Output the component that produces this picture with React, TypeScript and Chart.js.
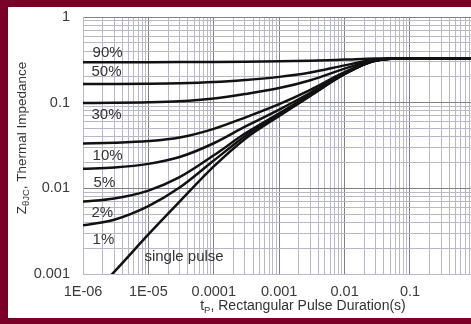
import { useEffect, useRef } from "react";
import { Chart, registerables } from "chart.js";

Chart.register(...registerables);

// Rectangular pulse duration (s)
const pulseDuration = [1e-6, 3e-6, 1e-5, 3e-5, 1e-4, 3e-4, 1e-3, 3e-3, 1e-2, 3e-2, 1e-1, 1];

// Thermal impedance Z(theta JC) per duty cycle
const duty90 = [0.297, 0.2971, 0.2973, 0.2977, 0.2988, 0.3008, 0.304, 0.309, 0.3185, 0.328, 0.33, 0.33];
const duty50 = [0.1652, 0.1655, 0.1664, 0.1685, 0.174, 0.184, 0.2, 0.225, 0.2725, 0.32, 0.33, 0.33];
const duty30 = [0.0993, 0.0997, 0.101, 0.104, 0.112, 0.126, 0.148, 0.183, 0.2495, 0.316, 0.33, 0.33];
const duty10 = [0.0334, 0.034, 0.0356, 0.0392, 0.0495, 0.067, 0.096, 0.141, 0.2265, 0.312, 0.33, 0.33];
const duty5 = [0.0169, 0.0175, 0.0193, 0.0232, 0.0336, 0.0524, 0.083, 0.1305, 0.2208, 0.311, 0.33, 0.33];
const duty2 = [0.007, 0.0076, 0.0094, 0.0135, 0.0243, 0.0436, 0.0752, 0.1242, 0.2173, 0.3104, 0.33, 0.33];
const duty1 = [0.0037, 0.0043, 0.0062, 0.0102, 0.0211, 0.0406, 0.0726, 0.1221, 0.2162, 0.3102, 0.33, 0.33];
const singlePulse = [0.00045, 0.00106, 0.0029, 0.007, 0.018, 0.0377, 0.07, 0.12, 0.215, 0.31, 0.33, 0.33];

const seriesNames = ["90%", "50%", "30%", "10%", "5%", "2%", "1%", "single pulse"];
const seriesValues = [duty90, duty50, duty30, duty10, duty5, duty2, duty1, singlePulse];

// where each curve's label sits, in data units (t, Z)
const labelT = [1.4e-6, 1.35e-6, 1.35e-6, 1.4e-6, 1.45e-6, 1.35e-6, 1.4e-6, 8.7e-6];
const labelZ = [0.38, 0.228, 0.072, 0.0238, 0.0115, 0.0052, 0.0025, 0.0016];

const xTickLabels = ["1E-06", "1E-05", "0.0001", "0.001", "0.01", "0.1"];
const yTickLabels = ["0.001", "0.01", "0.1", "1"];

const X_MIN = 1e-6;
const X_MAX = 0.857;
const Y_MIN = 0.001;
const Y_MAX = 1;

const FONT = "'Liberation Sans', Arial, Helvetica, sans-serif";
const TEXT = "#3a3a3a";
const GRID_MINOR = "#b9b9c6";
const GRID_MAJOR = "#7f7f88";

const isPow10 = (v: number) => {
  if (!v || v <= 0) return false;
  const l = Math.log10(v);
  return Math.abs(l - Math.round(l)) < 1e-6;
};

const logTicks = (min: number, max: number) => {
  const out: { value: number }[] = [];
  const e0 = Math.round(Math.log10(min));
  const e1 = Math.ceil(Math.log10(max));
  for (let e = e0; e <= e1; e++) {
    for (let s = 1; s <= 9; s++) {
      const v = s * Math.pow(10, e);
      if (v >= min * 0.999999 && v <= max * 1.000001) out.push({ value: v });
    }
  }
  if (!isPow10(max) && out[out.length - 1].value < max) out.push({ value: max });
  return out;
};

const curveLabels = {
  id: "curveLabels",
  afterDatasetsDraw(chart: any) {
    const { ctx, scales } = chart;
    ctx.save();
    ctx.fillStyle = "#333";
    ctx.font = `15px ${FONT}`;
    ctx.textAlign = "left";
    ctx.textBaseline = "middle";
    seriesNames.forEach((name, i) => {
      const x = scales.x.getPixelForValue(labelT[i]);
      const y = scales.y.getPixelForValue(labelZ[i]);
      ctx.fillText(name, x, y);
    });
    ctx.restore();
  },
};

const axisTitles = {
  id: "axisTitles",
  afterDraw(chart: any) {
    const { ctx } = chart;
    ctx.save();
    ctx.fillStyle = "#333";
    ctx.textBaseline = "alphabetic";
    ctx.textAlign = "left";

    // x title
    const big = `14px ${FONT}`;
    const small = `9.5px ${FONT}`;
    const xParts: [string, string, number][] = [
      ["t", big, 0],
      ["P", small, 3],
      [", Rectangular Pulse Duration(s)", big, 0],
    ];
    let total = 0;
    xParts.forEach(([s, f]) => {
      ctx.font = f;
      total += ctx.measureText(s).width;
    });
    let cx = 295 - total / 2;
    const by = 303;
    xParts.forEach(([s, f, dy]) => {
      ctx.font = f;
      ctx.fillText(s, cx, by + dy);
      cx += ctx.measureText(s).width;
    });

    // y title
    const bigY = `13.5px ${FONT}`;
    const smallY = `9.5px ${FONT}`;
    const yParts: [string, string, number][] = [
      ["Z", bigY, 0],
      ["θJC", smallY, 3],
      [", Thermal Impedance", bigY, 0],
    ];
    total = 0;
    yParts.forEach(([s, f]) => {
      ctx.font = f;
      total += ctx.measureText(s).width;
    });
    ctx.translate(18, 131);
    ctx.rotate(-Math.PI / 2);
    cx = -total / 2;
    yParts.forEach(([s, f, dy]) => {
      ctx.font = f;
      ctx.fillText(s, cx, 0 + dy);
      cx += ctx.measureText(s).width;
    });
    ctx.restore();
  },
};

export default function App() {
  const ref = useRef<HTMLCanvasElement>(null);

  useEffect(() => {
    const canvas = ref.current;
    if (!canvas) return;
    const chart = new Chart(canvas, {
      type: "line",
      data: {
        datasets: seriesNames.map((name, i) => ({
          label: name,
          data: pulseDuration.map((t, j) => ({ x: t, y: seriesValues[i][j] })),
          borderColor: "#111",
          borderWidth: 2.5,
          pointRadius: 0,
          fill: false,
          cubicInterpolationMode: "monotone" as const,
        })),
      },
      options: {
        animation: false,
        responsive: false,
        devicePixelRatio: 1,
        layout: { padding: { top: 10, right: 0, left: 0, bottom: 0 } },
        plugins: {
          legend: { display: false },
          tooltip: { enabled: false },
          title: { display: false },
        },
        scales: {
          x: {
            type: "logarithmic",
            min: X_MIN,
            max: X_MAX,
            afterBuildTicks: (scale: any) => {
              scale.ticks = logTicks(X_MIN, X_MAX);
            },
            afterFit: (scale: any) => {
              scale.height = 44;
              scale.paddingLeft = 0;
              scale.paddingRight = 0;
              scale.paddingTop = 0;
              scale.paddingBottom = 0;
            },
            ticks: {
              autoSkip: false,
              maxRotation: 0,
              padding: 9,
              color: TEXT,
              font: { family: FONT, size: 14.5 },
              callback: (v: any) => {
                const val = Number(v);
                if (!isPow10(val)) return "";
                const idx = Math.round(Math.log10(val)) + 6;
                return xTickLabels[idx] ?? "";
              },
            },
            grid: {
              drawTicks: false,
              lineWidth: 1,
              color: (c: any) => (isPow10(c.tick?.value) ? GRID_MAJOR : GRID_MINOR),
            },
            border: { display: true, color: GRID_MINOR },
          },
          y: {
            type: "logarithmic",
            min: Y_MIN,
            max: Y_MAX,
            afterBuildTicks: (scale: any) => {
              scale.ticks = logTicks(Y_MIN, Y_MAX);
            },
            afterFit: (scale: any) => {
              scale.width = 75;
              scale.paddingLeft = 0;
              scale.paddingRight = 0;
              scale.paddingTop = 0;
              scale.paddingBottom = 0;
            },
            ticks: {
              autoSkip: false,
              padding: 13,
              color: TEXT,
              font: { family: FONT, size: 14.5 },
              callback: (v: any) => {
                const val = Number(v);
                if (!isPow10(val)) return "";
                const idx = Math.round(Math.log10(val)) + 3;
                return yTickLabels[idx] ?? "";
              },
            },
            grid: {
              drawTicks: false,
              lineWidth: 1,
              color: (c: any) => (isPow10(c.tick?.value) ? GRID_MAJOR : GRID_MINOR),
            },
            border: { display: true, color: GRID_MINOR },
          },
        },
      },
      plugins: [curveLabels, axisTitles],
    } as any);
    return () => chart.destroy();
  }, []);

  return (
    <div
      style={{
        position: "fixed",
        left: 0,
        top: 0,
        width: "100vw",
        height: "100vh",
        background: "#7a0028",
        overflow: "hidden",
      }}
    >
      <canvas
        ref={ref}
        width={463}
        height={311}
        style={{ position: "absolute", left: 8, top: 7, width: 463, height: 311, background: "#fff" }}
      />
    </div>
  );
}
